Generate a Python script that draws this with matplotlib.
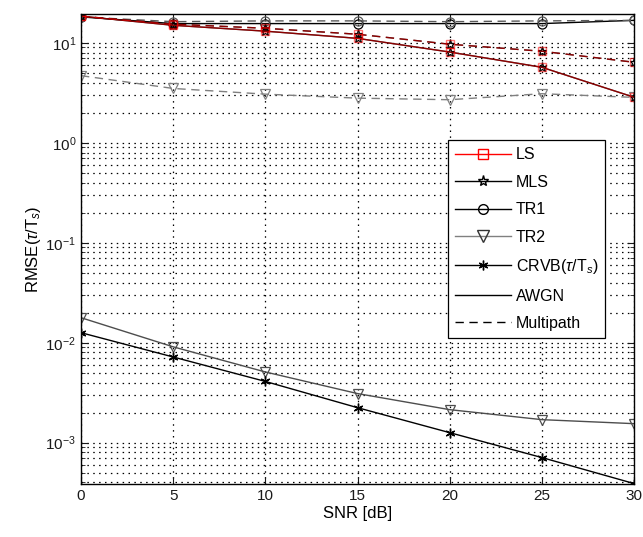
"""
RMSE of delay estimation (tau/Ts) versus SNR for the LS, MLS, TR1, TR2
estimators and the CRVB, under AWGN and multipath channels.
"""
import numpy as np
import matplotlib
matplotlib.use("Agg")
import matplotlib.pyplot as plt
from matplotlib.lines import Line2D
from matplotlib.ticker import LogLocator, NullFormatter

plt.rcParams['font.family'] = ['Liberation Sans', 'DejaVu Sans']
plt.rcParams['mathtext.fontset'] = 'custom'
plt.rcParams['mathtext.rm'] = 'Liberation Sans'
plt.rcParams['mathtext.it'] = 'Liberation Sans:italic'

snr_db = [0, 5, 10, 15, 20, 25, 30]

# AWGN channel
ls_awgn = [18.5, 15.0, 13.1, 11.1, 8.1, 5.7, 2.86]
mls_awgn = [18.5, 15.0, 13.1, 11.1, 8.1, 5.7, 2.86]
tr1_awgn = [18.2, 15.6, 15.6, 15.6, 15.6, 15.6, 16.8]
tr2_awgn = [0.0178, 0.0091, 0.0051, 0.0031, 0.00214, 0.0017, 0.00155]
crvb = [0.0126, 0.0072, 0.0041, 0.00224, 0.00126, 0.00071, 0.00039]

# multipath channel
ls_mp = [18.5, 15.4, 14.0, 12.2, 9.7, 8.25, 6.4]
mls_mp = [18.5, 15.4, 14.0, 12.2, 9.7, 8.25, 6.4]
tr1_mp = [18.2, 16.3, 16.6, 16.6, 16.3, 16.6, 16.8]
tr2_mp = [4.7, 3.5, 3.07, 2.8, 2.7, 3.1, 2.85]

GRAY = '0.5'


def plot_data():
    fig = plt.figure(figsize=(6.43, 5.37), dpi=100)
    ax = fig.add_axes([0.126, 0.0987, 0.860, 0.875])

    mk = dict(markersize=6.5, markerfacecolor='none', markeredgewidth=0.9)

    # TR1
    ax.plot(snr_db, tr1_awgn, '-', color='k', lw=1.0, marker='o', **mk)
    ax.plot(snr_db, tr1_mp, '--', color='0.35', lw=1.0, marker='o', dashes=(6, 4), **mk)
    # TR2
    ax.plot(snr_db, tr2_awgn, '-', color='0.3', lw=1.0, marker='v', markeredgecolor='0.3',
            markersize=7.5, markerfacecolor='none', markeredgewidth=0.9)
    ax.plot(snr_db, tr2_mp, '--', color=GRAY, lw=1.0, marker='v', dashes=(6, 4),
            markersize=7.5, markerfacecolor='none', markeredgewidth=0.9)
    # CRVB
    ax.plot(snr_db, crvb, '-', color='k', lw=1.0, marker=(6, 2, 0), markersize=7,
            markeredgewidth=1.0)
    # MLS
    ax.plot(snr_db, mls_awgn, '-', color='k', lw=1.0, marker='*', **mk)
    ax.plot(snr_db, mls_mp, '--', color='k', lw=1.0, marker='*', dashes=(6, 4), **mk)
    # LS
    ax.plot(snr_db, ls_awgn, '-', color='r', lw=1.0, alpha=0.55, marker='s', markersize=6,
            markerfacecolor='none', markeredgewidth=1.0, markeredgecolor='r')
    ax.plot(snr_db, ls_mp, '--', color='r', lw=1.0, alpha=0.55, marker='s', markersize=6,
            dashes=(6, 4), markerfacecolor='none', markeredgewidth=1.0, markeredgecolor='r')

    ax.set_yscale('log')
    ax.set_xlim(0, 30)
    ax.set_ylim(3.86e-4, 19.4)
    ax.set_xticks(snr_db)
    ax.yaxis.set_major_locator(LogLocator(base=10, numticks=10))
    ax.yaxis.set_minor_locator(LogLocator(base=10, subs=np.arange(2, 10), numticks=10))
    ax.yaxis.set_minor_formatter(NullFormatter())

    ax.grid(True, which='major', linestyle=(0, (1.2, 3.5)), color='k', lw=0.9)
    ax.grid(True, which='minor', axis='y', linestyle=(0, (1.2, 3.5)), color='k', lw=0.9)
    ax.tick_params(which='both', direction='in', top=True, right=True, labelsize=11,
                   colors='#1a1a1a')
    ax.tick_params(which='major', length=5)
    ax.tick_params(which='minor', length=3)
    for s in ax.spines.values():
        s.set_linewidth(1.0)

    ax.set_xlabel('SNR [dB]', fontsize=12, labelpad=2)
    ax.set_ylabel(r'RMSE($\tau$/T$_s$)', fontsize=12, labelpad=2)

    handles = [
        Line2D([], [], color='r', lw=1.0, marker='s', markersize=6.5, markerfacecolor='none'),
        Line2D([], [], color='k', lw=1.0, marker='*', markersize=8, markerfacecolor='none'),
        Line2D([], [], color='k', lw=1.0, marker='o', markersize=7, markerfacecolor='none'),
        Line2D([], [], color=GRAY, lw=1.0, marker='v', markersize=8, markerfacecolor='none',
               markeredgecolor='0.2'),
        Line2D([], [], color='k', lw=1.0, marker=(6, 2, 0), markersize=7),
        Line2D([], [], color='k', lw=1.0),
        Line2D([], [], color='k', lw=1.0, linestyle='--', dashes=(6, 4)),
    ]
    labels = ['LS', 'MLS', 'TR1', 'TR2', r'CRVB($\tau$/T$_s$)', 'AWGN', 'Multipath']
    leg = ax.legend(handles, labels, loc='upper right', bbox_to_anchor=(0.948, 0.732),
                    fontsize=11.5, handlelength=3.5, handletextpad=0.3, labelspacing=0.78,
                    fancybox=False, framealpha=1, edgecolor='k', borderpad=0.45,
                    borderaxespad=0)
    leg.get_frame().set_linewidth(0.9)

    fig.savefig('out.png', dpi=100)


def main():
    plot_data()


if __name__ == "__main__":
    main()
